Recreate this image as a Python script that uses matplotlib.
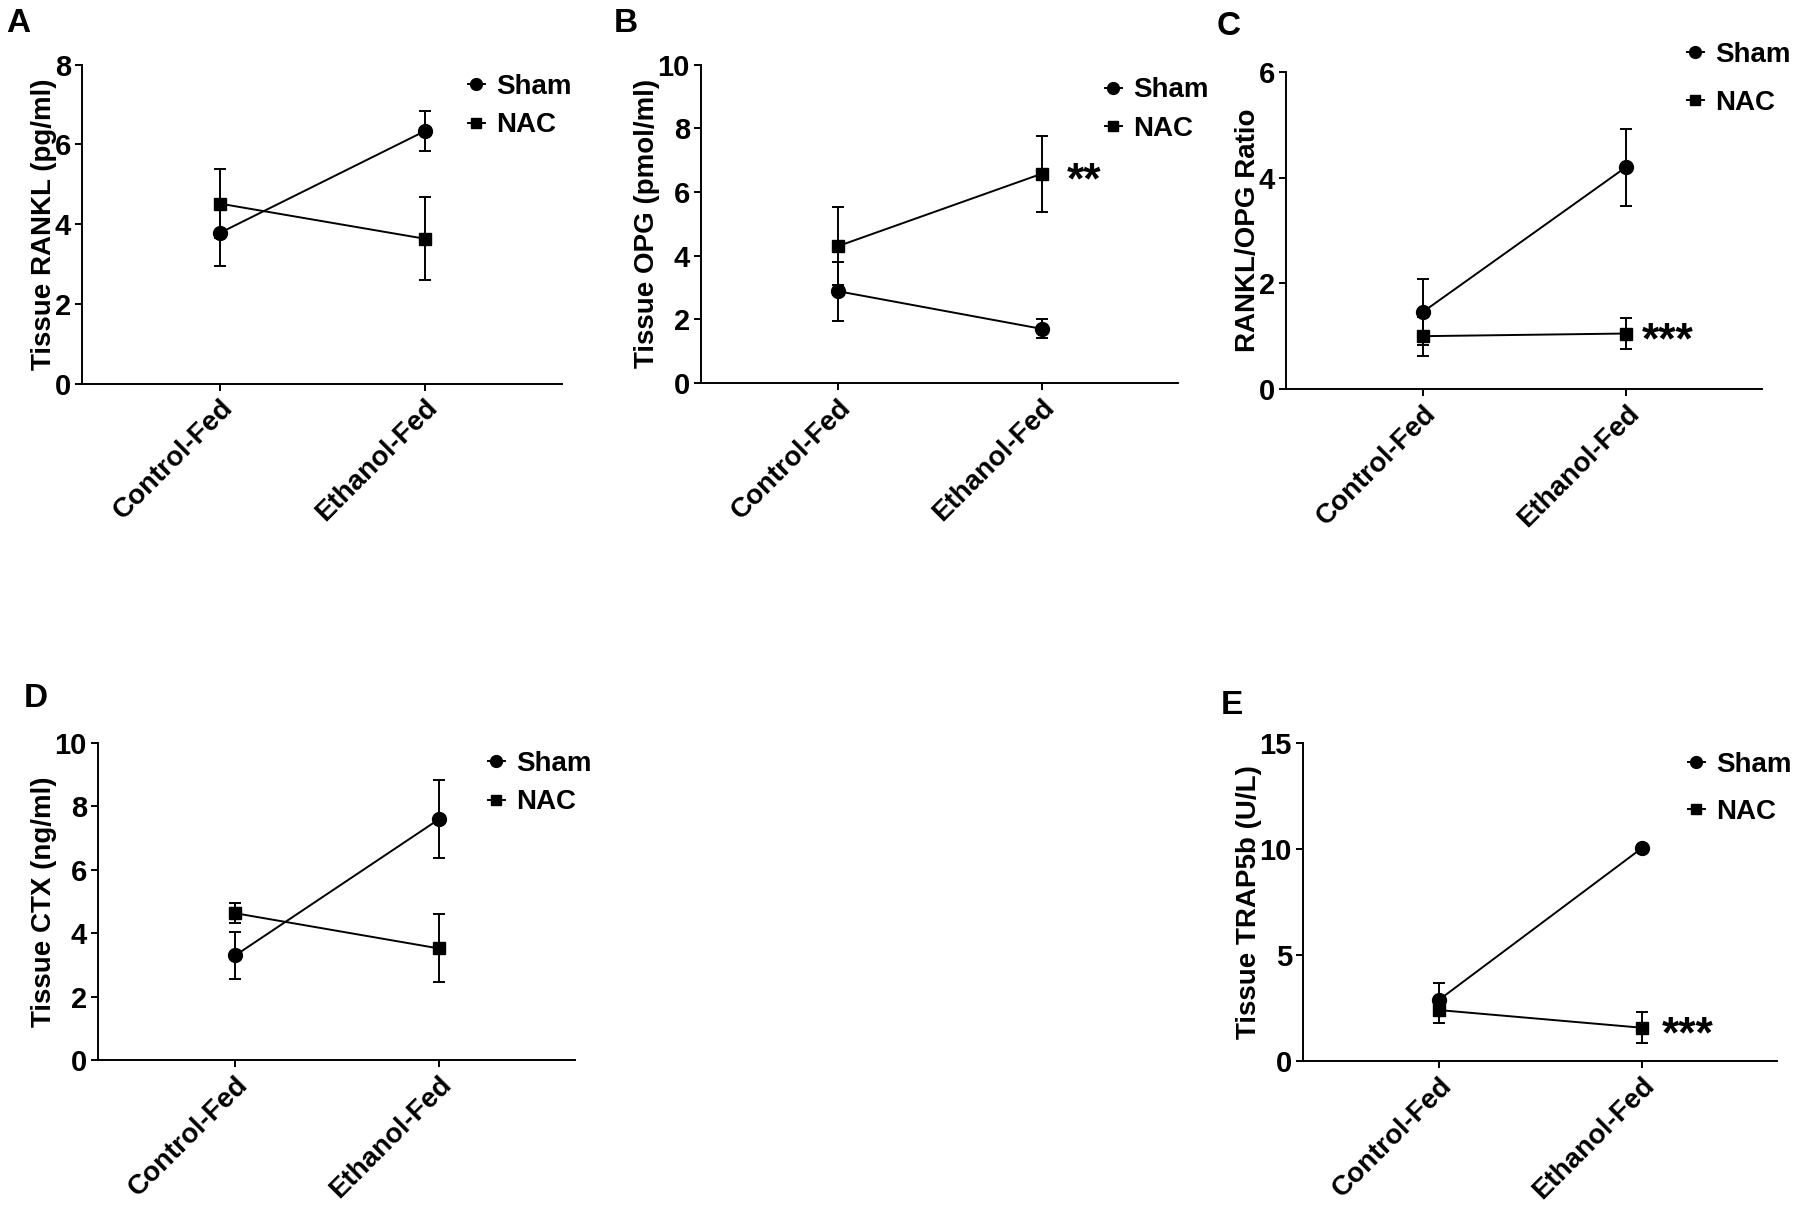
import matplotlib
matplotlib.use('Agg')
import matplotlib.pyplot as plt

## --- Data
groups = ['Control-Fed', 'Ethanol-Fed']

# A: tissue RANKL (pg/ml)
rankl_sham = [3.78, 6.33]
rankl_sham_err = [0.83, 0.50]
rankl_nac = [4.51, 3.63]
rankl_nac_err = [0.86, 1.04]

# B: tissue OPG (pmol/ml)
opg_sham = [2.88, 1.70]
opg_sham_err = [0.93, 0.30]
opg_nac = [4.30, 6.57]
opg_nac_err = [1.22, 1.20]

# C: RANKL/OPG ratio
ratio_sham = [1.46, 4.20]
ratio_sham_err = [0.62, 0.73]
ratio_nac = [1.00, 1.05]
ratio_nac_err = [0.37, 0.30]

# D: tissue CTX (ng/ml)
ctx_sham = [3.30, 7.59]
ctx_sham_err = [0.73, 1.23]
ctx_nac = [4.63, 3.52]
ctx_nac_err = [0.32, 1.07]

# E: tissue TRAP5b (U/L)
trap_sham = [2.90, 10.03]
trap_sham_err = [0.76, 0.05]
trap_nac = [2.40, 1.57]
trap_nac_err = [0.61, 0.74]

## --- Style
plt.rcParams['font.family'] = ['Liberation Sans', 'DejaVu Sans']
plt.rcParams['font.weight'] = 'bold'
plt.rcParams['axes.labelweight'] = 'bold'
LW = 1.4
W, H = 1800, 1208

fig = plt.figure(figsize=(18, 12.08), dpi=100)


def make_axes(left, right, top, bottom):
    # pixel box -> figure fraction
    return fig.add_axes([left / W, 1 - bottom / H, (right - left) / W, (bottom - top) / H])


def panel(ax, sham, sham_err, nac, nac_err, ylabel, ymax, ystep, letter, letter_xy,
          leg_xy, leg_spacing, stars=None):
    x = list(range(len(groups)))
    ax.errorbar(x, sham, yerr=sham_err, color='black', marker='o', ms=10, lw=LW,
                elinewidth=LW, capsize=4.5, capthick=LW, label='Sham', zorder=3)
    ax.errorbar(x, nac, yerr=nac_err, color='black', marker='s', ms=9, lw=LW,
                elinewidth=LW, capsize=4.5, capthick=LW, label='NAC', zorder=3)
    ax.set_xlim(-0.675, 1.67)
    ax.set_ylim(0, ymax)
    ax.set_yticks(range(0, ymax + 1, ystep))
    ax.set_xticks(x)
    ax.set_xticklabels(groups, rotation=45, ha='right', rotation_mode='anchor', fontsize=20)
    ax.tick_params(axis='y', labelsize=21)
    ax.tick_params(direction='out', length=5, width=LW, pad=3)
    for s in ['top', 'right']:
        ax.spines[s].set_visible(False)
    for s in ['left', 'bottom']:
        ax.spines[s].set_linewidth(LW)
    ax.set_ylabel(ylabel, fontsize=20, labelpad=-2)

    handles, labels = ax.get_legend_handles_labels()
    handles = [h[0] for h in handles]
    ax.legend(handles, labels, loc='center left', frameon=False, fontsize=20,
              bbox_to_anchor=(leg_xy[0] / W, 1 - leg_xy[1] / H), bbox_transform=fig.transFigure,
              handlelength=0.6, handletextpad=0.4, labelspacing=leg_spacing,
              borderpad=0, borderaxespad=0, markerscale=0.85)

    fig.text(letter_xy[0] / W, 1 - letter_xy[1] / H, letter, fontsize=24,
             fontweight='bold', va='top', ha='left')

    if stars is not None:
        sx, sy, stext = stars
        ax.annotate(stext, xy=(sx, sy), xytext=(0, -14), textcoords='offset points',
                    va='baseline', ha='left', fontsize=32, fontweight='bold')


axA = make_axes(82, 562, 64.5, 383.5)
panel(axA, rankl_sham, rankl_sham_err, rankl_nac, rankl_nac_err,
      'Tissue RANKL (pg/ml)', 8, 2, 'A', (6, 8), (468, 106), 0.45)

axB = make_axes(701, 1178, 64.5, 383)
panel(axB, opg_sham, opg_sham_err, opg_nac, opg_nac_err,
      'Tissue OPG (pmol/ml)', 10, 2, 'B', (614, 8), (1105, 109.5), 0.45,
      stars=(1.124, opg_nac[1], '**'))

axC = make_axes(1286, 1762, 72, 389)
panel(axC, ratio_sham, ratio_sham_err, ratio_nac, ratio_nac_err,
      'RANKL/OPG Ratio', 6, 2, 'C', (1217, 11), (1687, 79), 0.8,
      stars=(1.08, ratio_nac[1], '***'))

axD = make_axes(98, 575, 743, 1060)
panel(axD, ctx_sham, ctx_sham_err, ctx_nac, ctx_nac_err,
      'Tissue CTX (ng/ml)', 10, 2, 'D', (24, 683), (488, 783), 0.45)

axE = make_axes(1303, 1777, 743, 1061)
panel(axE, trap_sham, trap_sham_err, trap_nac, trap_nac_err,
      'Tissue TRAP5b (U/L)', 15, 5, 'E', (1221, 690), (1688, 788.5), 0.75,
      stars=(1.10, trap_nac[1], '***'))

fig.savefig('out.png', dpi=100)
